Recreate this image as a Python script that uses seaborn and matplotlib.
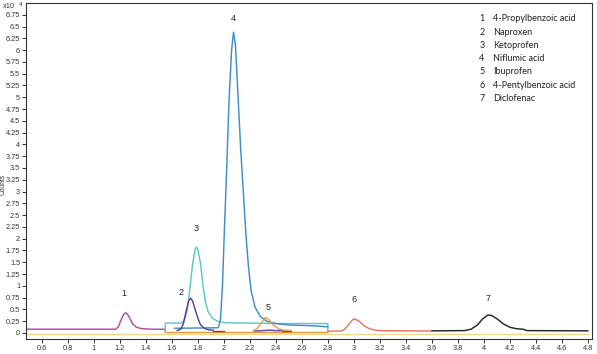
import matplotlib
matplotlib.use("Agg")
import matplotlib.pyplot as plt
import seaborn as sns
import pandas as pd
import numpy as np

# ---- data (time in min, counts in x10^4) ----
propyl_x = [0.48, 1.17, 1.19, 1.21, 1.23, 1.245, 1.26, 1.28, 1.30, 1.33, 1.37, 1.45, 1.55, 1.55]
propyl_y = [0.08, 0.08, 0.13, 0.27, 0.39, 0.43, 0.40, 0.30, 0.19, 0.12, 0.09, 0.08, 0.08, 0.03]

naprox_x = [1.64, 1.67, 1.69, 1.71, 1.73, 1.745, 1.76, 1.78, 1.80, 1.82, 1.85, 1.88, 1.92]
naprox_y = [0.05, 0.08, 0.20, 0.45, 0.68, 0.74, 0.68, 0.50, 0.32, 0.18, 0.10, 0.07, 0.06]
naprox2_x = [2.23, 2.30, 2.35, 2.40, 2.45]
naprox2_y = [0.04, 0.05, 0.06, 0.05, 0.05]

keto_x = [1.55, 1.55, 1.68, 1.70, 1.72, 1.74, 1.76, 1.78, 1.79, 1.80, 1.82, 1.84, 1.86, 1.88,
          1.91, 1.95, 2.00, 2.10, 2.20, 2.40, 2.60, 2.80, 2.80]
keto_y = [0.03, 0.21, 0.21, 0.30, 0.50, 0.95, 1.45, 1.78, 1.82, 1.78, 1.50, 1.00, 0.65, 0.45,
          0.32, 0.25, 0.22, 0.21, 0.21, 0.20, 0.20, 0.20, 0.02]

niflu_x = [1.62, 1.95, 1.96, 1.975, 1.99, 2.005, 2.02, 2.04, 2.06, 2.075, 2.09, 2.11, 2.13, 2.15,
           2.17, 2.19, 2.21, 2.24, 2.28, 2.33, 2.40, 2.50, 2.60, 2.70, 2.80]
niflu_y = [0.10, 0.11, 0.12, 0.30, 1.00, 2.20, 3.30, 4.90, 6.00, 6.38, 6.10, 5.00, 3.90, 3.00,
           2.10, 1.40, 0.90, 0.55, 0.35, 0.25, 0.20, 0.17, 0.16, 0.15, 0.13]

ibu_x = [2.23, 2.26, 2.29, 2.32, 2.35, 2.38, 2.42, 2.46, 2.52]
ibu_y = [0.05, 0.10, 0.22, 0.33, 0.27, 0.17, 0.09, 0.06, 0.05]

pentyl_x = [2.80, 2.90, 2.93, 2.96, 2.99, 3.005, 3.04, 3.08, 3.12, 3.16, 3.20, 3.60]
pentyl_y = [0.04, 0.04, 0.08, 0.18, 0.28, 0.30, 0.25, 0.15, 0.09, 0.06, 0.05, 0.04]

diclo_x = [3.60, 3.85, 3.90, 3.95, 3.99, 4.03, 4.06, 4.10, 4.15, 4.20, 4.25, 4.30, 4.33, 4.80]
diclo_y = [0.045, 0.05, 0.08, 0.17, 0.30, 0.38, 0.37, 0.30, 0.19, 0.12, 0.09, 0.08, 0.05, 0.045]

red1_x = [1.92, 2.00]
red1_y = [0.05, 0.05]
red2_x = [2.45, 2.52]
red2_y = [0.05, 0.05]

orange_x = [1.55, 2.80]
orange_y = [0.025, 0.025]
yellow_x = [0.48, 4.80]
yellow_y = [-0.02, -0.02]

peak_ids = ["1", "2", "3", "4", "5", "6", "7"]
peak_lab_x = [1.23, 1.67, 1.79, 2.07, 2.34, 3.00, 4.03]
peak_lab_y = [0.83, 0.85, 2.21, 6.68, 0.55, 0.70, 0.74]
compounds = ["4-Propylbenzoic acid", "Naproxen", "Ketoprofen", "Niflumic acid",
             "Ibuprofen", "4-Pentylbenzoic acid", "Diclofenac"]

x_ticks = [0.6, 0.8, 1.0, 1.2, 1.4, 1.6, 1.8, 2.0, 2.2, 2.4, 2.6, 2.8, 3.0, 3.2, 3.4, 3.6, 3.8,
           4.0, 4.2, 4.4, 4.6, 4.8]
y_ticks = [0, 0.25, 0.5, 0.75, 1, 1.25, 1.5, 1.75, 2, 2.25, 2.5, 2.75, 3, 3.25, 3.5, 3.75, 4,
           4.25, 4.5, 4.75, 5, 5.25, 5.5, 5.75, 6, 6.25, 6.5, 6.75]

sns.set_style("white")
plt.rcParams['font.family'] = ['Liberation Sans', 'DejaVu Sans']

fig = plt.figure(figsize=(5.97, 3.54), dpi=100)
ax = fig.add_axes([26 / 597, 15 / 354, (592 - 26) / 597, (339 - 3) / 354])

traces = [
    (yellow_x, yellow_y, "#f2d98c"),
    (orange_x, orange_y, "#e39a45"),
    (propyl_x, propyl_y, "#bd4a9f"),
    (keto_x, keto_y, "#5cc9c6"),
    (niflu_x, niflu_y, "#3f8fcc"),
    (naprox_x, naprox_y, "#5b3ea6"),
    (naprox2_x, naprox2_y, "#6a45b0"),
    (red1_x, red1_y, "#b8332a"),
    (red2_x, red2_y, "#b8332a"),
    (ibu_x, ibu_y, "#e6a04a"),
    (pentyl_x, pentyl_y, "#ec7664"),
    (diclo_x, diclo_y, "#262626"),
]
for xs, ys, c in traces:
    df = pd.DataFrame({"t": xs, "c": ys})
    sns.lineplot(data=df, x="t", y="c", color=c, linewidth=1.05, ax=ax,
                 estimator=None, sort=False)

for lab, lx, ly in zip(peak_ids, peak_lab_x, peak_lab_y):
    ax.text(lx, ly, lab, ha="center", va="center", fontsize=6.5, color="#222222")

ax.set_xlim(0.48, 4.83)
ax.set_ylim(-0.128, 7.0)
ax.set_xticks(x_ticks)
ax.set_xticklabels([f"{v:g}" for v in x_ticks])
ax.set_yticks(y_ticks)
ax.set_yticklabels([f"{v:g}" for v in y_ticks])
ax.tick_params(axis="both", which="both", direction="out", length=3, width=0.7,
               labelsize=5.3, colors="#333333", pad=1.2, left=True, bottom=True)
ax.set_xlabel("")
ax.set_ylabel("")
for s in ax.spines.values():
    s.set_color("#333333")
    s.set_linewidth(0.8)

fig.text(3.6 / 597, 1 - 184 / 354, "Counts", fontsize=4.8, color="#333333",
         rotation=90, va="center", ha="center")
fig.text(3 / 597, 1 - 6 / 354, "x10", fontsize=5.3, color="#333333", va="center", ha="left")
fig.text(19 / 597, 1 - 4 / 354, "4", fontsize=4.5, color="#333333", va="center", ha="left")

rows_y = [18.3, 32.3, 45, 58.3, 71.7, 85.7, 99]
for lab, name, ry in zip(peak_ids, compounds, rows_y):
    fig.text(482 / 597, 1 - ry / 354, lab, fontsize=6.5, color="#222222",
             ha="center", va="center", family=["Lato", "DejaVu Sans"])
    fig.text(493 / 597, 1 - ry / 354, name, fontsize=6.5, color="#222222",
             ha="left", va="center", family=["Lato", "DejaVu Sans"])

fig.savefig("out.png", dpi=100)
